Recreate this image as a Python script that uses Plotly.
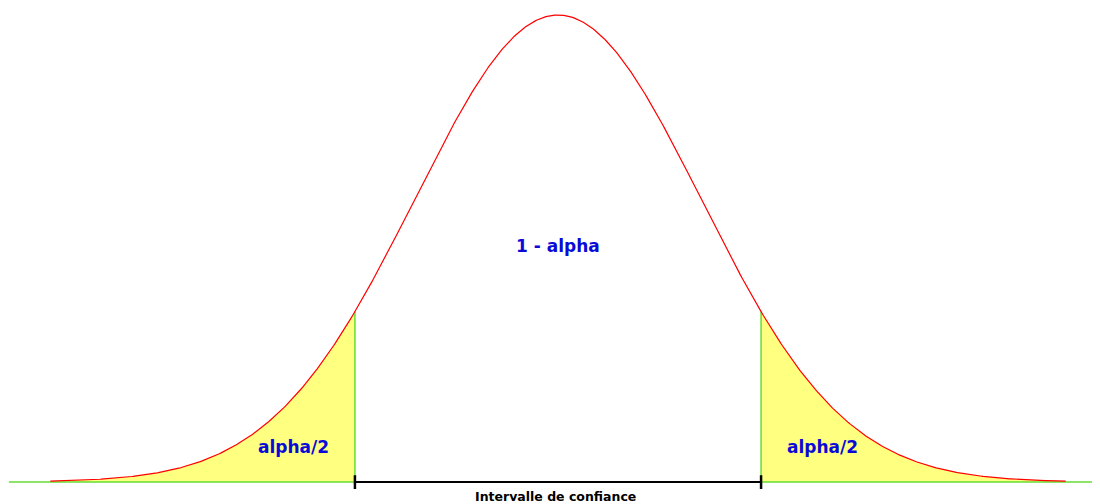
import numpy as np
import plotly.graph_objects as go

# Conceptual chart: standard normal density (scaled to peak = 1)
mean = 0.0
sd = 1.0
curve_lo, curve_hi = -3.55, 3.55       # extent of the drawn curve
cut_lo, cut_hi = -1.42, 1.42           # confidence interval bounds
base_lo, base_hi = -3.84, 3.9          # extent of the green baseline
labels_tail = ["alpha/2", "alpha/2"]
label_center = "1 - alpha"
label_interval = "Intervalle de confiance"

def dens(x):
    return np.exp(-0.5 * ((x - mean) / sd) ** 2)

xs = np.linspace(curve_lo, curve_hi, 800)
ys = dens(xs)

fig = go.Figure()

# yellow tails
for a, b in [(curve_lo, cut_lo), (cut_hi, curve_hi)]:
    tx = np.linspace(a, b, 300)
    ty = dens(tx)
    px = np.concatenate([[a], tx, [b]])
    py = np.concatenate([[0], ty, [0]])
    fig.add_trace(go.Scatter(x=px, y=py, mode="lines", fill="toself",
                             fillcolor="#ffff80", line=dict(width=0),
                             hoverinfo="skip", showlegend=False))

# green baseline and vertical bounds
fig.add_trace(go.Scatter(x=[base_lo, base_hi], y=[0, 0], mode="lines",
                         line=dict(color="#66dd33", width=1.5),
                         hoverinfo="skip", showlegend=False))
for c in [cut_lo, cut_hi]:
    fig.add_trace(go.Scatter(x=[c, c], y=[0, dens(c)], mode="lines",
                             line=dict(color="#66dd33", width=1.5),
                             hoverinfo="skip", showlegend=False))

# red density curve
fig.add_trace(go.Scatter(x=xs, y=ys, mode="lines",
                         line=dict(color="#ff0000", width=1.2),
                         hoverinfo="skip", showlegend=False))

# black interval bar with end ticks
fig.add_trace(go.Scatter(x=[cut_lo, cut_hi], y=[0, 0], mode="lines",
                         line=dict(color="black", width=2.2),
                         hoverinfo="skip", showlegend=False))
for c in [cut_lo, cut_hi]:
    fig.add_trace(go.Scatter(x=[c, c], y=[0.0145, -0.015], mode="lines",
                             line=dict(color="black", width=2.5),
                             hoverinfo="skip", showlegend=False))

font_blue = dict(family="DejaVu Sans", size=17, color="#0a0ad8", weight="bold")
fig.add_annotation(x=0.0, y=0.506, text=label_center, showarrow=False,
                   font=font_blue, xanchor="center", yanchor="middle")
fig.add_annotation(x=-1.853, y=0.075, text=labels_tail[0], showarrow=False,
                   font=font_blue, xanchor="center", yanchor="middle")
fig.add_annotation(x=1.85, y=0.075, text=labels_tail[1], showarrow=False,
                   font=font_blue, xanchor="center", yanchor="middle")
fig.add_annotation(x=-0.02, y=-0.031, text=label_interval, showarrow=False,
                   font=dict(family="DejaVu Sans", size=12.5, color="black", weight="bold"),
                   xanchor="center", yanchor="middle")

# page body has an 8px margin, so the figure is sized to fill the rest
fig.update_layout(
    width=1092, height=496,
    margin=dict(l=0, r=0, t=0, b=0),
    paper_bgcolor="white", plot_bgcolor="white",
    xaxis=dict(range=[-3.846, 3.790], visible=False, fixedrange=True),
    yaxis=dict(range=[-0.0471, 1.015], visible=False, fixedrange=True),
    showlegend=False,
)

fig.write_html("out.html")
